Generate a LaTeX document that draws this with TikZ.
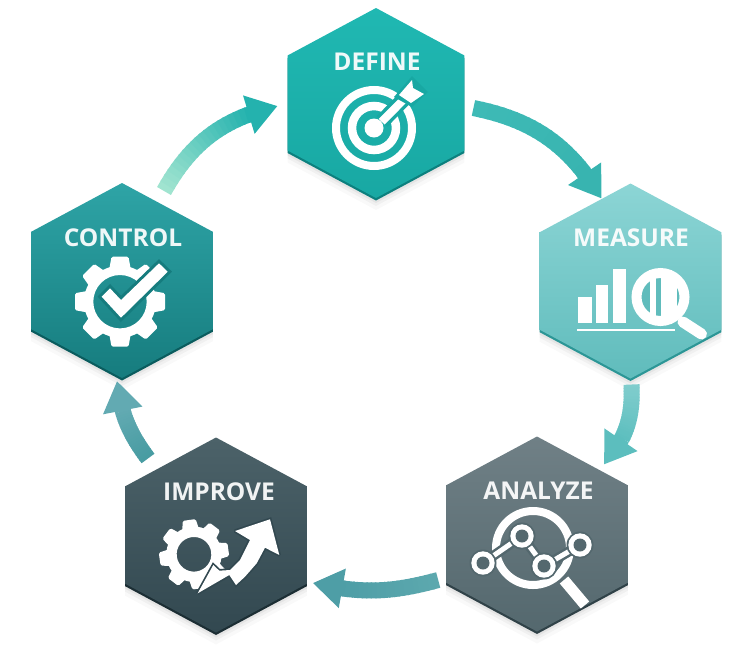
\documentclass[tikz,border=0pt]{standalone}
\usepackage{fontspec}
\setsansfont{Open Sans}
\usetikzlibrary{arrows.meta,shapes.geometric}
\definecolor{definetop}{RGB}{32,184,178}
\definecolor{definebot}{RGB}{24,168,163}
\definecolor{definelip}{RGB}{12,128,126}
\definecolor{measuretop}{RGB}{140,213,213}
\definecolor{measurebot}{RGB}{96,188,188}
\definecolor{measurelip}{RGB}{44,150,150}
\definecolor{analyzetop}{RGB}{112,128,134}
\definecolor{analyzebot}{RGB}{84,104,110}
\definecolor{analyzelip}{RGB}{48,66,72}
\definecolor{improvetop}{RGB}{76,98,105}
\definecolor{improvebot}{RGB}{50,72,80}
\definecolor{improvelip}{RGB}{28,46,52}
\definecolor{controltop}{RGB}{46,164,166}
\definecolor{controlbot}{RGB}{22,124,126}
\definecolor{controllip}{RGB}{10,92,94}
\definecolor{flowa}{RGB}{62,186,182}
\definecolor{flowb}{RGB}{56,180,176}
\definecolor{flowc}{RGB}{128,205,205}
\definecolor{flowd}{RGB}{92,190,190}
\definecolor{flowe}{RGB}{92,168,174}
\definecolor{flowf}{RGB}{78,158,166}
\definecolor{flowg}{RGB}{72,156,162}
\definecolor{flowh}{RGB}{98,170,178}
\definecolor{flowi}{RGB}{160,228,208}
\definecolor{flowj}{RGB}{36,178,174}
\tikzset{
  hexa/.style n args={3}{regular polygon,regular polygon sides=6,shape border rotate=30,
    minimum size=195pt,inner sep=0pt,outer sep=0pt,xscale=1.075,transform shape,
    top color=#1,bottom color=#2,
    preaction={fill=black,opacity=.025,transform canvas={yshift=-12pt}},
    preaction={fill=black,opacity=.035,transform canvas={yshift=-8pt}},
    preaction={fill=black,opacity=.05,transform canvas={yshift=-5pt}},
    preaction={fill=#3,transform canvas={yshift=-2.5pt}}},
  hexlabel/.style={font=\sffamily\bfseries\fontsize{24.5}{24.5}\selectfont,text=white,text opacity=.93,inner sep=0pt},
  % pictograms
  pics/target/.style={code={
    \draw[white,line width=8pt] (0,0) circle (38);
    \draw[white,line width=8.5pt] (0,0) circle (22);
    \fill[white] (0,0) circle (9.5);
    \draw[#1,line width=15pt] (8,-6.5) -- (30,-29);
    \draw[white,line width=8pt] (7.7,-6.3) -- (31,-29.7);
    \fill[#1] (20,-31) -- (38,-52) -- (54,-36) -- (38,-21) -- cycle;
    \fill[white] (25,-33) -- (38,-48) -- (39,-40) -- (50,-34) -- (37,-25) -- cycle;
  }},
  pics/barlens/.style={code={
    \fill[white] (-52.5,16) rectangle (-38.5,42);
    \fill[white] (-34.5,4) rectangle (-22.5,42);
    \fill[white] (-17.5,-12) rectangle (-4.5,42);
    \draw[white,line width=2pt] (-53.5,49) -- (44.5,49);
    \fill[#1] (30,16) circle (25);
    \begin{scope}
      \clip (30,16) circle (20);
      \fill[white] (19.5,-10) rectangle (25.5,40);
      \fill[white] (30,-10) rectangle (46,40);
    \end{scope}
    \draw[white,line width=10pt] (30,16) circle (24);
    \draw[white,line width=11pt,line cap=round] (52.5,41) -- (71,53);
  }},
  pics/chartlens/.style={code={
    \draw[white,line width=8pt] (-4,14) circle (37);
    \draw[white,line width=11pt] (27,46) -- (48,71);
    \draw[#1,line width=10pt] (-54,29) -- (-15,2) -- (7,32) -- (43,11);
    \draw[white,line width=5pt] (-54,29) -- (-15,2) -- (7,32) -- (43,11);
    \foreach \x/\y in {-54/29,-15/2,7/32,43/11}{
      \fill[#1] (\x,\y) circle (13.5);
      \fill[white] (\x,\y) circle (11.7);
      \fill[#1] (\x,\y) circle (6.5);
    }
  }},
  pics/gear/.style={code={
    \fill[white,even odd rule] (0,0) circle (36) circle (#1);
    \foreach \a in {0,45,...,315}
      \fill[white,rotate=\a,rounded corners=1.5pt] (-8.5,-45) -- (8.5,-45) -- (11,-31) -- (-11,-31) -- cycle;
  }},
  pics/gear/.default=26.7,
  pics/gearrise/.style={code={
    \pic[scale=.77,rotate=8] at (-22,19.3) {gear=22.5};
    \fill[white,preaction={draw=#1,line width=3.4pt,miter limit=2}] (-18.3,58.3) -- (-2.7,30) -- (3.3,35.7) -- (14,35)
      -- (24,25) -- (34,5) -- (19,-4) -- (54,-15.7) -- (63.3,20) -- (49,12.7)
      -- (40.7,28.3) -- (29,41.7) -- (20,50) -- (13.3,40) -- cycle;
  }},
  pics/gearcheck/.style={code={
    \pic at (-2,21.2) {gear};
    \fill[white,preaction={draw=#1,line width=6pt,miter limit=2}] (-20.3,16.2) -- (-12,7.8) -- (-1,19.5) -- (37,-17.2)
      -- (45.7,-8.8) -- (-1,37.2) -- cycle;
  }},
}
\newcommand{\ringflow}[6]{
  \foreach \p in {0,...,19}{
    \pgfmathsetmacro{\q}{\p*#6/20}
    \pgfmathsetmacro{\r}{(\p+1.3)*#6/20}
    \pgfmathtruncatemacro{\pc}{\p*5}
    \path (#1) to[bend left=#3] coordinate[pos=\q] (p1) coordinate[pos=\r] (p2) (#2);
    \draw[#5!\pc!#4,line width=16pt] (p1) -- (p2);
  }
  \path (#1) to[bend left=#3] coordinate[pos=#6] (p1) (#2);
  \draw[#5,line width=16pt,-{Triangle[length=30pt,width=38pt]}] (p1) -- (#2);
}

\begin{document}
\begin{tikzpicture}[x=1pt,y=-1pt]
  \useasboundingbox (0,0) rectangle (732,665);
  \node[hexa={definetop}{definebot}{definelip},minimum size=190pt,xscale=1.0] (define) at (376,103) {};
  \node[hexa={measuretop}{measurebot}{measurelip}] (measure) at (630.5,281) {};
  \node[hexa={analyzetop}{analyzebot}{analyzelip}] (analyze) at (537,534) {};
  \node[hexa={improvetop}{improvebot}{improvelip}] (improve) at (216,535) {};
  \node[hexa={controltop}{controlbot}{controllip}] (control) at (122,280.5) {};

  \node[hexlabel] (define label) at ([shift={(1,-41)}]define.center) {DEFINE};
  \node[hexlabel] (measure label) at ([shift={(0.5,-43)}]measure.center) {MEASURE};
  \node[hexlabel] (analyze label) at ([shift={(1.5,-43)}]analyze.center) {ANALYZE};
  \node[hexlabel] (improve label) at ([shift={(3,-43)}]improve.center) {IMPROVE};
  \node[hexlabel] (control label) at ([shift={(1,-42.5)}]control.center) {CONTROL};

  \pic at ([shift={(-2,25)}]define.center) {target=definebot};
  \pic at (measure.center) {barlens=measurebot};
  \pic at (analyze.center) {chartlens=analyzebot};
  \pic at (improve.center) {gearrise=improvebot};
  \pic at (control.center) {gearcheck=controlbot};

  \coordinate (dm tail) at ([shift={(9,5)}]define.east);
  \coordinate (dm head) at ([shift={(-29,15)}]measure.north);
  \coordinate (ma tail) at ([shift={(1,6)}]measure.south);
  \coordinate (ma head) at ([shift={(67,28)}]analyze.north);
  \coordinate (ai tail) at ([shift={(-8,46)}]analyze.west);
  \coordinate (ai head) at ([shift={(6,48)}]improve.east);
  \coordinate (ic tail) at ([shift={(-68,21)}]improve.north);
  \coordinate (ic head) at ([shift={(-5,3)}]control.south);
  \coordinate (cd tail) at ([shift={(42,8)}]control.north);
  \coordinate (cd head) at ([shift={(-10,3)}]define.west);

  \ringflow{dm tail}{dm head}{24}{flowa}{flowb}{.81}
  \ringflow{ma tail}{ma head}{22}{flowc}{flowd}{.64}
  \ringflow{ai tail}{ai head}{14}{flowe}{flowf}{.76}
  \ringflow{ic tail}{ic head}{15}{flowg}{flowh}{.64}
  \ringflow{cd tail}{cd head}{24}{flowi}{flowj}{.79}
\end{tikzpicture}
\end{document}
